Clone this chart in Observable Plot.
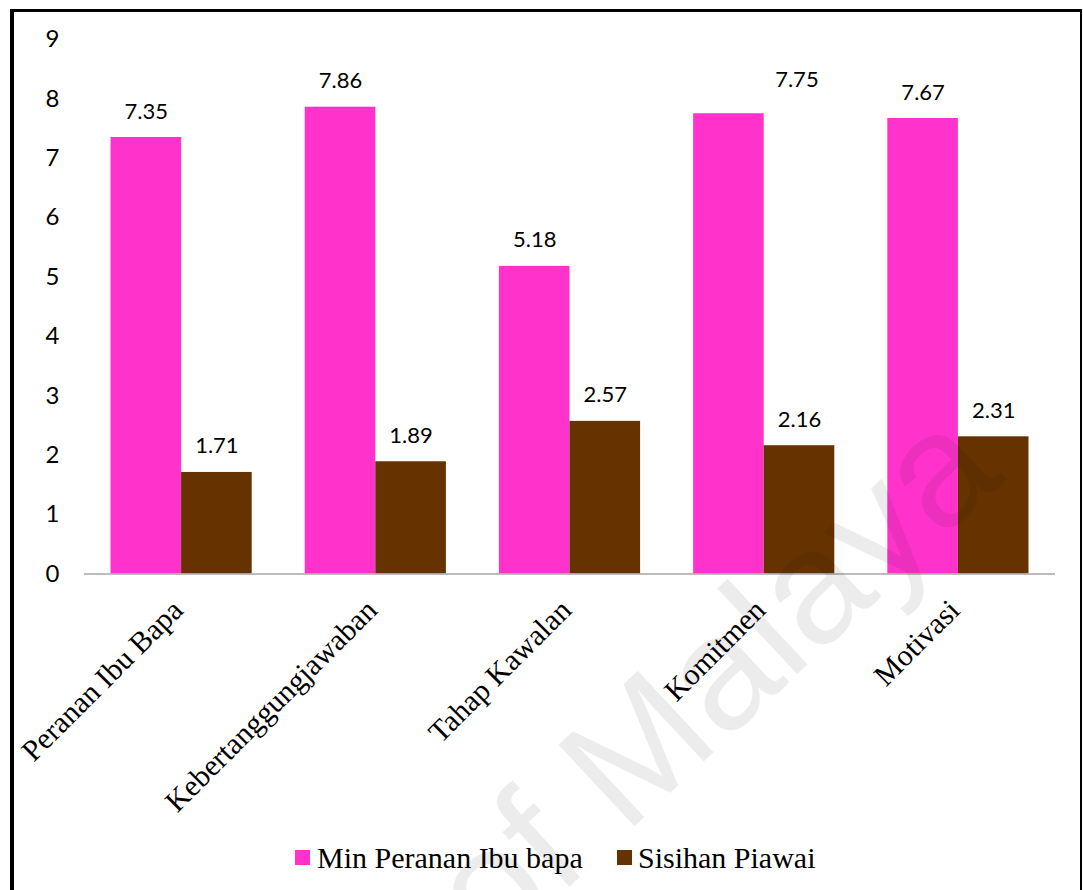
<!DOCTYPE html>
<html>
<head>
<meta charset="utf-8">
<script src="https://cdn.jsdelivr.net/npm/d3@7"></script>
<script src="https://cdn.jsdelivr.net/npm/@observablehq/plot@0.6"></script>
<style>
  html, body { margin: 0; padding: 0; background: #fff; }
  #card {
    position: absolute; left: 10px; top: 9px;
    width: 1066px; height: 900px;
    border-left: 4px solid #000; border-top: 3px solid #000; border-right: 2px solid #000;
    background: #fff; overflow: hidden;
  }
  #chart svg { display: block; }
  .key { position: absolute; font-family: "Liberation Serif", "Times New Roman", serif; font-size: 30px; line-height: 30px; color: #000; white-space: nowrap; }
  .swatch { position: absolute; width: 15px; height: 15px; }
  #stamp { position: absolute; left: 0; top: 0; pointer-events: none; }
</style>
</head>
<body>
<div id="card">
  <div id="chart"></div>
  <div id="legend"></div>
  <svg id="stamp" width="1066" height="900"></svg>
</div>
<script>
// Categories and the two series shown for each
const categories = ["Peranan Ibu Bapa", "Kebertanggungjawaban", "Tahap Kawalan", "Komitmen", "Motivasi"];
const seriesNames = ["Min Peranan Ibu bapa", "Sisihan Piawai"];
const minValues = [7.35, 7.86, 5.18, 7.75, 7.67];
const sdValues = [1.71, 1.89, 2.57, 2.16, 2.31];
const yTicks = [0, 1, 2, 3, 4, 5, 6, 7, 8, 9];
const seriesColors = ["#FF33CC", "#663300"];

const rows = [
  ...categories.map((c, i) => ({category: c, series: seriesNames[0], value: minValues[i]})),
  ...categories.map((c, i) => ({category: c, series: seriesNames[1], value: sdValues[i]}))
];
const minRows = rows.filter(d => d.series === seriesNames[0]);
const sdRows = rows.filter(d => d.series === seriesNames[1]);

const W = 1066, H = 810;
const M = {top: 27, right: 25, bottom: 248.5, left: 70};
const padIn = 0.273, padOut = 0.1365;
// each category band holds the two bars side by side
const bw = d3.scaleBand(categories, [M.left, W - M.right]).paddingInner(padIn).paddingOuter(padOut).bandwidth();
const half = bw / 2;
const fmt = d3.format(".2f");
const numFont = "Lato, 'Open Sans', sans-serif";
const serif = "'Liberation Serif', 'Times New Roman', serif";
const axisGray = "#a6a6a6";

const plot = Plot.plot({
  width: W,
  height: H,
  marginTop: M.top,
  marginRight: M.right,
  marginBottom: M.bottom,
  marginLeft: M.left,
  style: {fontFamily: numFont, background: "#fff", color: "#000", overflow: "visible"},
  x: {type: "band", domain: categories, paddingInner: padIn, paddingOuter: padOut, round: false, axis: null},
  y: {domain: [0, 9], axis: null},
  color: {domain: seriesNames, range: seriesColors},
  marks: [
    Plot.barY(minRows, {x: "category", y: "value", fill: "series", insetLeft: 0, insetRight: half}),
    Plot.barY(sdRows, {x: "category", y: "value", fill: "series", insetLeft: half, insetRight: 0}),
    Plot.ruleY([0], {stroke: axisGray, strokeWidth: 1.5}),
    Plot.axisY({ticks: yTicks, tickSize: 0, tickPadding: 25, fontSize: 24, fontFamily: numFont, line: true, stroke: axisGray, strokeWidth: 1.5, label: null}),
    // value labels above each bar
    Plot.text(minRows.filter(d => d.category !== "Komitmen"), {x: "category", y: "value", text: d => fmt(d.value), dx: -half / 2, dy: -26, lineAnchor: "middle", fontSize: 22, fontFamily: numFont, fill: "#000"}),
    Plot.text(minRows.filter(d => d.category === "Komitmen"), {x: "category", y: "value", text: d => fmt(d.value), dx: -half / 2 + 68, dy: -34, lineAnchor: "middle", fontSize: 22, fontFamily: numFont, fill: "#000"}),
    Plot.text(sdRows, {x: "category", y: "value", text: d => fmt(d.value), dx: half / 2, dy: -26, lineAnchor: "middle", fontSize: 22, fontFamily: numFont, fill: "#000"}),
    // slanted category names under the axis
    Plot.text(categories, {x: d => d, frameAnchor: "bottom", dx: 3, dy: 38, rotate: -45, textAnchor: "end", lineAnchor: "bottom", fontSize: 30, fontFamily: serif, fill: "#000"})
  ]
});
document.getElementById("chart").appendChild(plot);

// legend below the chart
const legend = document.getElementById("legend");
const keyPos = [{sw: 281, tx: 303}, {sw: 603, tx: 624}];
seriesNames.forEach((name, i) => {
  const sw = document.createElement("div");
  sw.className = "swatch";
  sw.style.left = keyPos[i].sw + "px";
  sw.style.top = "838px";
  sw.style.background = seriesColors[i];
  legend.appendChild(sw);
  const tx = document.createElement("div");
  tx.className = "key";
  tx.style.left = keyPos[i].tx + "px";
  tx.style.top = "831px";
  tx.textContent = name;
  legend.appendChild(tx);
});

// faint slanted watermark over the chart
d3.select("#stamp").append("text")
  .attr("x", 479).attr("y", 946)
  .attr("transform", "rotate(-43 479 946)")
  .attr("font-family", "'Liberation Sans', Arial, sans-serif")
  .attr("font-size", 162)
  .attr("fill", "#000")
  .attr("fill-opacity", 0.075)
  .text("of Malaya");
</script>
</body>
</html>
